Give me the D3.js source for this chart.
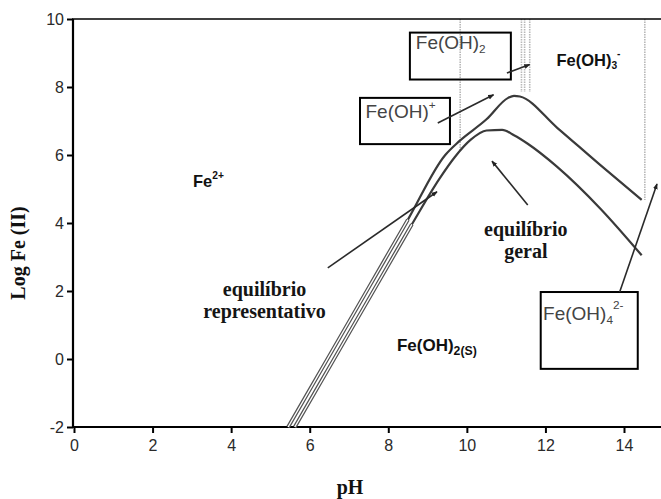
<!DOCTYPE html>
<html>
<head>
<meta charset="utf-8">
<script src="https://cdn.jsdelivr.net/npm/d3@7"></script>
<style>
  html, body { margin: 0; padding: 0; background: #fff; }
  svg { display: block; }
</style>
</head>
<body>
<svg id="chart" width="661" height="499"></svg>
<script>
// Solubility of Fe(II) vs pH: two computed equilibrium curves
const xTicks = [0, 2, 4, 6, 8, 10, 12, 14];
const yTicks = [-2, 0, 2, 4, 6, 8, 10];

// [pH, log Fe(II)]
const curveUpper = [
  [5.45, -2], [6.5, 0.1], [7.5, 2.1], [8.5, 4.1], [9.45, 6.0], [9.8, 6.4],
  [10.5, 7.05], [11.05, 7.68], [11.2, 7.74], [11.35, 7.72], [12.3, 6.8],
  [13.4, 5.7], [14.45, 4.68]
];
const curveLower = [
  [5.62, -2], [6.6, -0.04], [7.6, 1.96], [8.6, 3.96], [9.3, 5.3], [9.7, 5.95],
  [10.1, 6.45], [10.5, 6.72], [10.9, 6.74], [11.2, 6.58], [11.55, 6.33],
  [12.3, 5.65], [13.4, 4.42], [14.45, 3.05]
];

// phase-boundary markers: [pH, lower end of the line in log units]
const boundaries = [[9.83, 6.15], [11.39, 7.85], [11.47, 7.85], [11.6, 7.85], [14.53, 4.68]];

// species boxes: [pH left, pH right, log top, log bottom]
const boxFeOH2 = [8.55, 11.12, 9.6, 8.22];
const boxFeOHp = [7.28, 9.57, 7.68, 6.32];
const boxFeOH4 = [11.88, 14.35, 1.97, -0.29];

// arrows: [pH from, log from, pH to, log to]
const arrows = [
  [11.02, 8.41, 11.6, 8.66],
  [9.26, 6.94, 10.68, 7.77],
  [6.46, 2.68, 9.24, 4.92],
  [11.55, 4.53, 10.64, 5.82],
  [13.89, 1.97, 14.84, 5.15]
];

const W = 661, H = 499;
const svg = d3.select("#chart");
const x = d3.scaleLinear().domain([0, 14]).range([74, 624]);
const y = d3.scaleLinear().domain([-2, 10]).range([427, 19]);

const defs = svg.append("defs");
defs.append("marker")
  .attr("id", "head")
  .attr("viewBox", "0 0 10 10")
  .attr("refX", 9).attr("refY", 5)
  .attr("markerWidth", 6).attr("markerHeight", 6)
  .attr("markerUnits", "userSpaceOnUse")
  .attr("orient", "auto")
  .append("path").attr("d", "M0,1 L10,5 L0,9 Z").attr("fill", "#222");

// dotted phase-boundary lines
svg.append("g").selectAll("line").data(boundaries).join("line")
  .attr("x1", d => x(d[0])).attr("x2", d => x(d[0]))
  .attr("y1", y(10)).attr("y2", d => y(d[1]))
  .attr("stroke", "#b8b8b8").attr("stroke-width", 1.6)
  .attr("stroke-dasharray", "1.5,1");

// axes (plain hyphen for negatives)
const fmt = d => String(d);
const gx = svg.append("g").attr("transform", `translate(0,${y(-2)})`)
  .call(d3.axisBottom(x).tickValues(xTicks).tickFormat(fmt).tickSize(6).tickPadding(7));
const gy = svg.append("g").attr("transform", `translate(${x(0) - 1},0)`)
  .call(d3.axisLeft(y).tickValues(yTicks).tickFormat(fmt).tickSize(6).tickPadding(3));
[gx, gy].forEach(g => {
  g.select(".domain").remove();
  g.selectAll(".tick line").attr("stroke", "#000").attr("stroke-width", 2);
  g.selectAll(".tick text").attr("font-family", "Liberation Sans, Arial, sans-serif")
    .attr("font-size", 16).attr("fill", "#2a2a2a");
});
svg.append("line").attr("x1", x(0) - 2).attr("x2", W).attr("y1", y(-2)).attr("y2", y(-2))
  .attr("stroke", "#000").attr("stroke-width", 2.2);
svg.append("line").attr("x1", x(0) - 1).attr("x2", x(0) - 1).attr("y1", y(10)).attr("y2", y(-2) + 1)
  .attr("stroke", "#000").attr("stroke-width", 2.2);
svg.append("line").attr("x1", x(0) - 2).attr("x2", W).attr("y1", y(10)).attr("y2", y(10))
  .attr("stroke", "#000").attr("stroke-width", 1.6);

// axis titles
svg.append("text").attr("transform", `translate(25,${(y(10) + y(-2)) / 2 + 30}) rotate(-90)`)
  .attr("text-anchor", "middle")
  .attr("font-family", "Liberation Serif, Times New Roman, serif")
  .attr("font-weight", "bold").attr("font-size", 20).attr("fill", "#111")
  .text("Log Fe (II)");
svg.append("text").attr("x", (x(0) + x(14)) / 2 + 1).attr("y", 494)
  .attr("text-anchor", "middle")
  .attr("font-family", "Liberation Serif, Times New Roman, serif")
  .attr("font-weight", "bold").attr("font-size", 20).attr("fill", "#111")
  .text("pH");

// equilibrium curves
const line = d3.line().x(d => x(d[0])).y(d => y(d[1])).curve(d3.curveMonotoneX);
const cg = svg.append("g").attr("fill", "none").attr("stroke-linejoin", "round");
[curveUpper, curveLower].forEach(c => {
  cg.append("path").attr("d", line(c)).attr("stroke", "#3a3a3a").attr("stroke-width", 2.2);
  const rising = c.filter(d => d[1] <= 4.5 && d[0] < 9.5);
  cg.append("path").attr("d", line(rising)).attr("stroke", "#555").attr("stroke-width", 3.8);
  cg.append("path").attr("d", line(rising)).attr("stroke", "#fff").attr("stroke-width", 1.3);
});

// species boxes
svg.append("g").selectAll("rect").data([boxFeOH2, boxFeOHp, boxFeOH4]).join("rect")
  .attr("x", d => x(d[0])).attr("y", d => y(d[2]))
  .attr("width", d => x(d[1]) - x(d[0])).attr("height", d => y(d[3]) - y(d[2]))
  .attr("fill", "none").attr("stroke", "#000").attr("stroke-width", 2);

// arrows
svg.append("g").selectAll("line").data(arrows).join("line")
  .attr("x1", d => x(d[0])).attr("y1", d => y(d[1]))
  .attr("x2", d => x(d[2])).attr("y2", d => y(d[3]))
  .attr("stroke", "#2a2a2a").attr("stroke-width", 1.6)
  .attr("marker-end", "url(#head)");

// labels
const sans = "Liberation Sans, Arial, sans-serif";
const serif = "Liberation Serif, Times New Roman, serif";
function chem(px, py, parts, opts) {
  const t = svg.append("text").attr("x", x(px)).attr("y", y(py))
    .attr("font-family", sans).attr("font-size", opts.size)
    .attr("font-weight", opts.bold ? "bold" : "normal").attr("fill", opts.fill);
  parts.forEach(p => {
    const s = t.append("tspan").text(p.t);
    if (p.small) s.attr("font-size", opts.size * (opts.ratio || 0.62)).attr("dy", p.dy);
  });
  return t;
}
chem(3.03, 5.06, [{t: "Fe"}, {t: "2+", small: true, dy: -8}], {size: 16.5, bold: true, fill: "#111"});
chem(12.28, 8.62, [{t: "Fe(OH)"}, {t: "3", small: true, dy: 3}, {t: "-", small: true, dy: -12}], {size: 16.5, bold: true, fill: "#111"});
chem(8.22, 0.24, [{t: "Fe(OH)"}, {t: "2(S)", small: true, dy: 4}], {size: 17, bold: true, fill: "#111", ratio: 0.72});
chem(8.7, 9.12, [{t: "Fe(OH)"}, {t: "2", small: true, dy: 4}], {size: 19, bold: false, fill: "#444"});
chem(7.42, 7.1, [{t: "Fe(OH)"}, {t: "+", small: true, dy: -9}], {size: 19, bold: false, fill: "#444"});
chem(11.94, 1.15, [{t: "Fe(OH)"}, {t: "4", small: true, dy: 4}, {t: "2-", small: true, dy: -15}], {size: 19, bold: false, fill: "#444"});

const serifLabels = [
  [4.85, 1.85, "equilíbrio"],
  [4.85, 1.2, "representativo"],
  [11.5, 3.63, "equilíbrio"],
  [11.5, 2.98, "geral"]
];
svg.append("g").selectAll("text").data(serifLabels).join("text")
  .attr("x", d => x(d[0])).attr("y", d => y(d[1]))
  .attr("text-anchor", "middle")
  .attr("font-family", serif).attr("font-weight", "bold").attr("font-size", 20)
  .attr("fill", "#151515")
  .text(d => d[2]);
</script>
</body>
</html>
